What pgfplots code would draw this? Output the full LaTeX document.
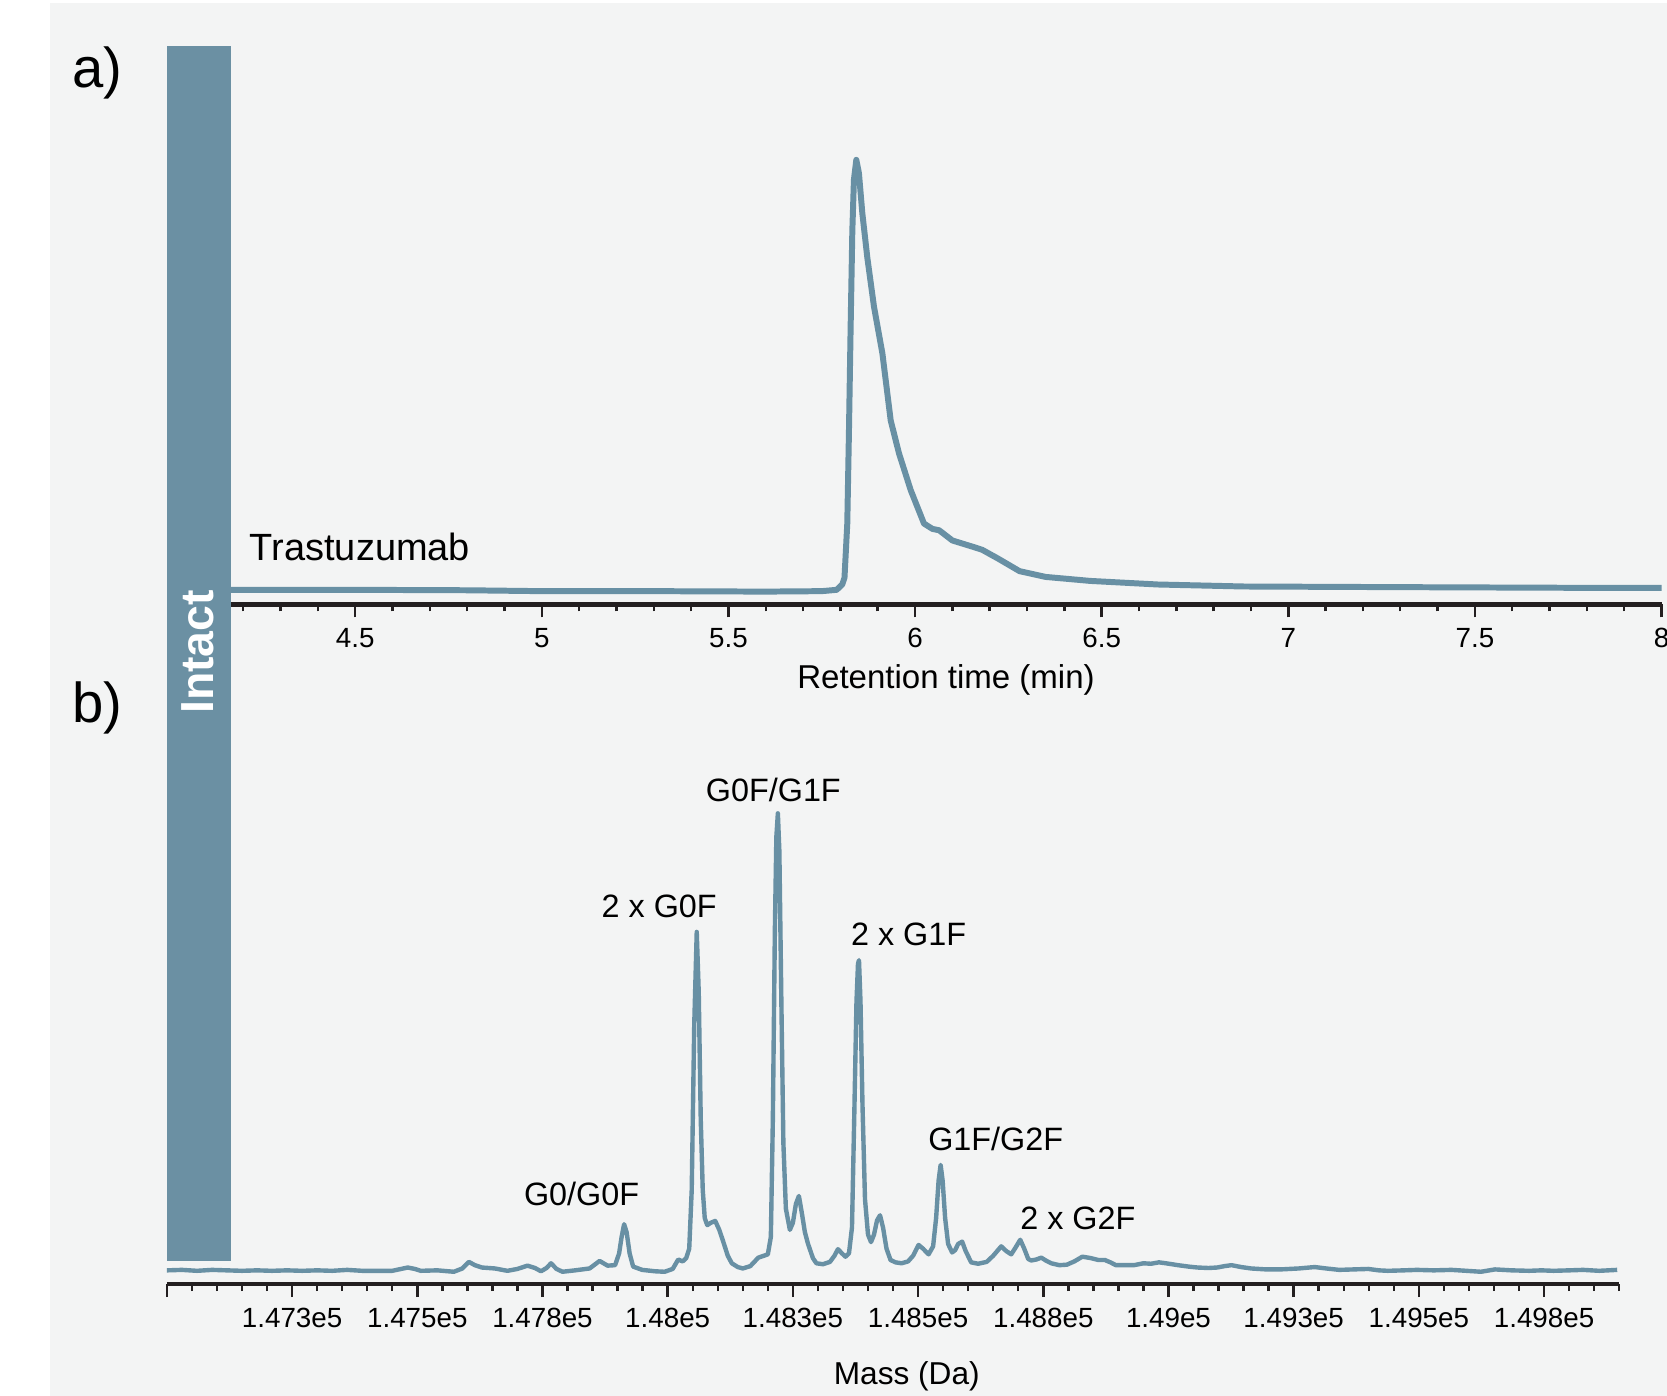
\documentclass[border=0pt]{standalone}
\usepackage{fontspec}
\setmainfont{Liberation Sans}
\usepackage{pgfplots}
\pgfplotsset{compat=1.18}
\definecolor{trace}{HTML}{6890A4}
\definecolor{barc}{HTML}{6B90A3}
\definecolor{panel}{HTML}{F3F4F4}
\definecolor{axdark}{HTML}{231F20}

\pgfplotsset{spec/.style={
  scale only axis, anchor=south west,
  axis x line*=bottom, axis y line=none,
  axis line style={axdark, line width=1.2pt},
  tick align=outside,
  major tick length=0.13cm, minor tick length=0.07cm,
  every tick/.style={axdark, line width=0.7pt},
  xticklabel style={font=\fontsize{7.9}{9}\selectfont, text=black, anchor=base, yshift=-0.30cm},
  scaled x ticks=false,
  ymin=0,
}}

\begin{document}
\begin{tikzpicture}
\fill[white] (0,0) rectangle (16.67,13.96);
\fill[panel] (0.50,0) rectangle (16.67,13.93);

% a) chromatogram
\begin{axis}[spec, at={(2.305cm,7.915cm)}, width=14.31cm, height=5.585cm,
  xmin=4.166, xmax=8, ymax=125.6,
  xtick={4.5,5,5.5,6,6.5,7,7.5,8}, xticklabels={4.5,5,5.5,6,6.5,7,7.5,8},
  minor xtick={4.2,4.3,4.4,4.6,4.7,4.8,4.9,5.1,5.2,5.3,5.4,5.6,5.7,5.8,5.9,6.1,6.2,6.3,6.4,6.6,6.7,6.8,6.9,7.1,7.2,7.3,7.4,7.6,7.7,7.8,7.9}]
\addplot[trace, line width=1.7pt, line join=round] coordinates {
(4.166,3.3) (4.5,3.3) (4.8,3.2) (5.0,3.0) (5.3,3.0) (5.6,2.9) (5.75,3.0) (5.79,3.3)
(5.805,4.5) (5.811,6) (5.8185,18.2) (5.823,39) (5.8274,62) (5.832,84) (5.8363,95.5)
(5.8427,100) (5.8497,97) (5.8588,88) (5.8722,78) (5.89,67) (5.9125,56.5) (5.9348,41.4)
(5.957,34) (5.9885,25.7) (6.024,18.2) (6.0467,17) (6.0645,16.7) (6.1,14.4) (6.158,12.9)
(6.18,12.3) (6.223,10.3) (6.28,7.5) (6.35,6.2) (6.47,5.3) (6.65,4.5) (6.88,4.05)
(7.3,3.9) (7.78,3.75) (8.0,3.75)};
\node[anchor=base west, inner sep=0, font=\fontsize{10.8}{12}\selectfont] at (axis cs:4.216,9.8) {Trastuzumab};
\end{axis}

% b) deconvoluted mass spectrum
\begin{axis}[spec, at={(1.669cm,1.12cm)}, width=14.523cm, height=5.84cm,
  xmin=147000, xmax=149900, ymax=124.07,
  xtick={147000,147250,147500,147750,148000,148250,148500,148750,149000,149250,149500,149750},
  xticklabels={,1.473e5,1.475e5,1.478e5,1.48e5,1.483e5,1.485e5,1.488e5,1.49e5,1.493e5,1.495e5,1.498e5},
  minor xtick={147050,147100,147150,147200,147300,147350,147400,147450,147550,147600,147650,147700,
  147800,147850,147900,147950,148050,148100,148150,148200,148300,148350,148400,148450,
  148550,148600,148650,148700,148800,148850,148900,148950,149050,149100,149150,149200,
  149300,149350,149400,149450,149550,149600,149650,149700,149800,149850,149900}]
\addplot[trace, line width=1.25pt, line join=round] coordinates {
(147000,2.9) (147030,3.0) (147060,2.8) (147090,3.0) (147120,2.9) (147150,2.8) (147180,2.9)
(147210,2.8) (147240,2.9) (147270,2.8) (147300,2.9) (147330,2.8) (147360,3.0) (147390,2.8)
(147420,2.8) (147450,2.8) (147481,3.5) (147495,3.2) (147507,2.8) (147540,2.9) (147573,2.6)
(147590,3.3) (147603,4.7) (147615,4.0) (147629,3.5) (147655,3.3) (147680,2.8) (147700,3.2)
(147720,3.9) (147735,3.4) (147747,2.7) (147758,3.4) (147767,4.4) (147778,3.2) (147790,2.6)
(147815,2.9) (147844,3.3) (147864,4.9) (147880,3.9) (147895,4.0) (147903,6.5) (147908,10)
(147913,12.7) (147918,11) (147924,6.5) (147931,3.7) (147949,3.0) (147975,2.7) (147994,2.6)
(148010,3.2) (148021,5.2) (148030,4.8) (148037,5.5) (148043,7.5) (148048,20) (148053,55)
(148058,74.8) (148062,62) (148066,35) (148070,20) (148074,14) (148079,12.5) (148086,13)
(148095,13.4) (148103,11.5) (148110,9.3) (148120,6.0) (148128,4.4) (148140,3.6) (148150,3.3)
(148165,3.8) (148181,5.6) (148192,6.0) (148200,6.3) (148206,10) (148210,35) (148214,75)
(148217,95) (148220,100) (148223,92) (148227,60) (148231,30) (148236,16) (148244,11.5)
(148250,13) (148256,17) (148262,18.7) (148268,15) (148274,11) (148280,8.6) (148290,5.5)
(148297,4.4) (148310,4.2) (148324,4.7) (148333,6.0) (148340,7.4) (148348,6.5) (148355,5.8)
(148362,6.5) (148368,12) (148373,38) (148377,60) (148380,68) (148382,68.8) (148385,60)
(148389,38) (148394,18) (148400,10.5) (148406,8.9) (148412,10.5) (148418,13.5) (148424,14.6)
(148430,12) (148437,7.5) (148445,5.1) (148455,4.6) (148467,4.4) (148480,4.8) (148490,6.0)
(148501,8.3) (148510,7.5) (148521,6.3) (148530,8) (148536,14) (148541,22) (148545,25.3)
(148549,22) (148554,14) (148560,8.5) (148568,6.7) (148574,7.2) (148580,8.5) (148588,9.0)
(148595,7) (148606,4.6) (148620,4.3) (148637,4.7) (148650,6.0) (148666,8.0) (148676,7.0)
(148686,6.3) (148695,7.8) (148704,9.4) (148712,7.5) (148720,5.3) (148726,5.0) (148736,5.2)
(148746,5.6) (148755,5.0) (148766,4.4) (148782,4.0) (148797,4.1) (148812,4.8) (148828,5.8)
(148845,5.5) (148860,5.1) (148873,5.1) (148884,4.6) (148895,4.0) (148915,4.0) (148931,4.0)
(148950,4.4) (148965,4.3) (148981,4.6) (148995,4.4) (149019,4.0) (149040,3.7) (149058,3.5)
(149080,3.4) (149097,3.5) (149112,3.8) (149126,4.0) (149145,3.6) (149165,3.3) (149195,3.1)
(149224,3.1) (149260,3.3) (149292,3.6) (149315,3.3) (149341,3.0) (149370,3.1) (149399,3.2)
(149420,2.9) (149438,2.8) (149470,2.9) (149496,3.0) (149530,2.9) (149565,3.0) (149595,2.8)
(149624,2.6) (149652,3.1) (149685,2.9) (149720,2.8) (149745,2.9) (149769,2.8) (149800,2.9)
(149828,3.0) (149860,2.8) (149896,3.0)};
\begin{scope}[every node/.style={anchor=base, inner sep=0, font=\fontsize{9.2}{11}\selectfont}]
\node at (axis cs:147828,16.6) {G0/G0F};
\node at (axis cs:147983,77.8) {2 x G0F};
\node at (axis cs:148211,102.5) {G0F/G1F};
\node at (axis cs:148481,72.0) {2 x G1F};
\node at (axis cs:148655,28.3) {G1F/G2F};
\node at (axis cs:148819,11.5) {2 x G2F};
\end{scope}
\end{axis}

\fill[barc] (1.67,1.353) rectangle (2.31,13.50);
\node[rotate=90, inner sep=0, text=white, font=\bfseries\fontsize{13.2}{15}\selectfont] at (1.974,7.44) {Intact};

\node[anchor=base west, inner sep=0, font=\fontsize{16}{18}\selectfont] at (0.72,13.08) {a)};
\node[anchor=base west, inner sep=0, font=\fontsize{16}{18}\selectfont] at (0.72,6.73) {b)};

\node[anchor=base, inner sep=0, font=\fontsize{9.4}{11}\selectfont] at (9.46,7.077) {Retention time (min)};
\node[anchor=base, inner sep=0, font=\fontsize{9}{11}\selectfont] at (9.068,0.12) {Mass (Da)};

\pgfresetboundingbox
\useasboundingbox (0,0) rectangle (16.67,13.96);
\end{tikzpicture}
\end{document}
